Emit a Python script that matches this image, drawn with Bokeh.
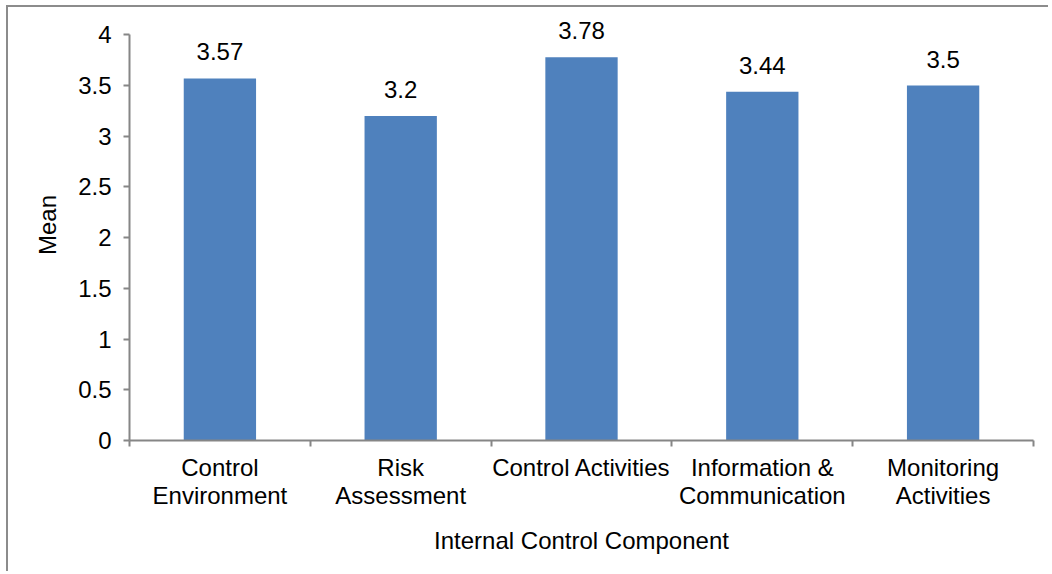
from bokeh.plotting import figure
from bokeh.models import (Range1d, FixedTicker, CustomJSTickFormatter,
                          ColumnDataSource, LabelSet)
from bokeh.core.properties import value
from bokeh.embed import file_html
from bokeh.resources import INLINE

categories = ["Control Environment", "Risk Assessment", "Control Activities",
              "Information & Communication", "Monitoring Activities"]
tick_labels = ["Control\nEnvironment", "Risk\nAssessment", "Control Activities",
               "Information &\nCommunication", "Monitoring\nActivities"]
means = [3.57, 3.2, 3.78, 3.44, 3.5]
y_ticks = [0, 0.5, 1, 1.5, 2, 2.5, 3, 3.5, 4]

FONT = "Liberation Sans"
AXIS_COLOR = "#868686"
BAR_COLOR = "#4F81BD"
FS = "24px"

n = len(categories)
slot = [i + 0.5 for i in range(n)]          # category slot centres
bounds = [float(i) for i in range(n + 1)]   # category slot boundaries

src = ColumnDataSource(dict(x=slot, cat=categories, mean=means,
                            lab=["%g" % m for m in means]))

# y range extends a little above 4 so the value labels are not clipped;
# the axis line itself stops at 4
p = figure(width=1042, height=566, output_backend="svg", toolbar_location=None,
           x_range=Range1d(0, n), y_range=Range1d(0, 4.25),
           min_border_left=121, min_border_right=17, min_border_top=2,
           min_border_bottom=133)
p.outline_line_color = None
p.xgrid.visible = False
p.ygrid.visible = False
p.background_fill_color = "white"
p.border_fill_color = "white"
p.styles = {"margin-left": "6px", "margin-top": "5px",
            "border-left": "2px solid #8c8c8c", "border-top": "2px solid #8c8c8c"}

p.vbar(x="x", top="mean", width=0.4, source=src, fill_color=BAR_COLOR,
       line_color=None)
labels = LabelSet(x="x", y="mean", text="lab", source=src, text_align="center",
                  text_baseline="alphabetic", y_offset=18,
                  text_font=value(FONT), text_font_size=value(FS),
                  text_color="black")
p.add_layout(labels)

# y axis
ya = p.yaxis[0]
ya.bounds = (0, 4)
ya.ticker = FixedTicker(ticks=y_ticks)
ya.formatter = CustomJSTickFormatter(code="return tick.toString()")
ya.axis_label = "Mean"
ya.axis_label_text_font = FONT
ya.axis_label_text_font_size = FS
ya.axis_label_text_font_style = "normal"
ya.axis_label_text_color = "black"
ya.axis_label_standoff = 14
ya.major_label_text_font = FONT
ya.major_label_text_font_size = FS
ya.major_label_text_color = "black"
ya.major_label_standoff = 12
ya.axis_line_color = AXIS_COLOR
ya.axis_line_width = 2
ya.major_tick_line_color = AXIS_COLOR
ya.major_tick_line_width = 2
ya.major_tick_in = 0
ya.major_tick_out = 6
ya.minor_tick_line_color = None

# x axis: labels at slot centres, tick marks at slot boundaries
xa = p.xaxis[0]
xa.ticker = FixedTicker(ticks=slot, minor_ticks=bounds)
xa.major_label_overrides = {c: t for c, t in zip(slot, tick_labels)}
xa.axis_label = "Internal Control Component"
xa.axis_label_text_font = FONT
xa.axis_label_text_font_size = FS
xa.axis_label_text_font_style = "normal"
xa.axis_label_text_color = "black"
xa.axis_label_standoff = 15
xa.major_label_text_font = FONT
xa.major_label_text_font_size = FS
xa.major_label_text_color = "black"
xa.major_label_text_line_height = 1.05
xa.major_label_standoff = 7
xa.axis_line_color = AXIS_COLOR
xa.axis_line_width = 2
xa.major_tick_line_color = None
xa.minor_tick_line_color = AXIS_COLOR
xa.minor_tick_line_width = 2
xa.minor_tick_in = 0
xa.minor_tick_out = 6

open("out.html", "w").write(file_html(p, INLINE))
